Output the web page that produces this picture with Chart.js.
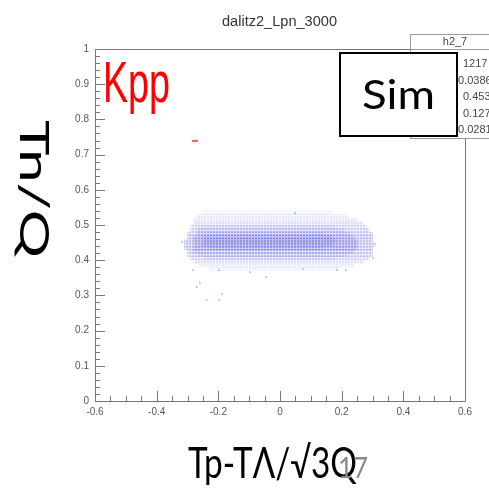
<!DOCTYPE html>
<html>
<head>
<meta charset="utf-8">
<script src="https://cdn.jsdelivr.net/npm/chart.js@4/dist/chart.umd.min.js"></script>
<style>
  html, body { margin: 0; padding: 0; background: #fff; }
  #wrap { width: 489px; height: 491px; position: relative; }
</style>
</head>
<body>
<div id="wrap"><canvas id="c" width="489" height="491"></canvas></div>
<script>
// ---------------- data ----------------
const chartTitle = 'dalitz2_Lpn_3000';
const xTitle = 'Tp-T\u039B/\u221A3Q';
const yTitle = 'Tn/Q';
const xTickLabels = ['-0.6', '-0.4', '-0.2', '0', '0.2', '0.4', '0.6'];
const yTickLabels = ['0', '0.1', '0.2', '0.3', '0.4', '0.5', '0.6', '0.7', '0.8', '0.9', '1'];

// 2D histogram read as rows of bins (Tn/Q): x-extent and relative density
// outer fringe
const fringeY    = [0.375, 0.385, 0.395, 0.405, 0.415, 0.425, 0.435, 0.445, 0.455, 0.465, 0.475, 0.485, 0.495, 0.505, 0.515, 0.525, 0.535];
const fringeLo   = [-0.23, -0.26, -0.28, -0.29, -0.30, -0.30, -0.31, -0.31, -0.31, -0.30, -0.30, -0.29, -0.29, -0.28, -0.28, -0.27, -0.25];
const fringeHi   = [ 0.19,  0.24,  0.27,  0.29,  0.30,  0.30,  0.30,  0.31,  0.30,  0.30,  0.30,  0.29,  0.28,  0.27,  0.25,  0.22,  0.17];
const fringeDens = [ 0.09,  0.13,  0.18,  0.23,  0.27,  0.31,  0.34,  0.35,  0.35,  0.34,  0.31,  0.27,  0.24,  0.20,  0.16,  0.13,  0.09];
// main body
const bodyY    = [0.405, 0.415, 0.425, 0.435, 0.445, 0.455, 0.465, 0.475, 0.485, 0.495];
const bodyLo   = [-0.25, -0.27, -0.28, -0.28, -0.28, -0.28, -0.28, -0.27, -0.27, -0.26];
const bodyHi   = [ 0.18,  0.22,  0.24,  0.25,  0.25,  0.25,  0.24,  0.23,  0.21,  0.18];
const bodyDens = [ 0.10,  0.16,  0.22,  0.28,  0.32,  0.32,  0.28,  0.22,  0.16,  0.10];
// dense core
const coreY    = [0.435, 0.445, 0.455, 0.465, 0.475];
const coreLo   = [-0.23, -0.25, -0.25, -0.25, -0.23];
const coreHi   = [ 0.14,  0.17,  0.18,  0.17,  0.14];
const coreDens = [ 0.15,  0.23,  0.23,  0.20,  0.13];
// isolated entries
const strayX = [-0.260, -0.270, -0.237, -0.198, -0.188, -0.282, -0.198, -0.097, -0.045, 0.075, 0.185, 0.214, 0.302, 0.049, -0.318];
const strayY = [ 0.335,  0.324,  0.287,  0.287,  0.304,  0.372,  0.372,  0.366,  0.352, 0.375, 0.372, 0.372, 0.406, 0.534,  0.452];
// small red mark
const markX = [-0.276];
const markY = [0.739];
// statistics box (partly hidden)
const statsName = 'h2_7';
const statsValues = ['1217', '0.0386', '0.453', '0.127', '0.0281'];

// ---------------- rendering ----------------
const BASE = [92, 92, 222];
const patternCache = {};
function binPattern(a) {
  const key = a.toFixed(3);
  if (patternCache[key]) return patternCache[key];
  const t = document.createElement('canvas');
  t.width = 3; t.height = 3;
  const g = t.getContext('2d');
  g.fillStyle = `rgba(${BASE[0]},${BASE[1]},${BASE[2]},${a * 0.4})`;
  g.fillRect(0, 0, 3, 3);
  g.clearRect(0, 0, 2, 2);
  g.fillStyle = `rgba(${BASE[0]},${BASE[1]},${BASE[2]},${a})`;
  g.fillRect(0, 0, 2, 2);
  const p = document.getElementById('c').getContext('2d').createPattern(t, 'repeat');
  patternCache[key] = p;
  return p;
}

function fitText(ctx, text, x, y, w, font, color, rot) {
  ctx.save();
  ctx.font = font;
  ctx.fillStyle = color;
  ctx.textBaseline = 'alphabetic';
  ctx.textAlign = 'left';
  const m = ctx.measureText(text).width;
  ctx.translate(x, y);
  if (rot) ctx.rotate(rot);
  ctx.scale(w / m, 1);
  ctx.fillText(text, 0, 0);
  ctx.restore();
}

const framePlugin = {
  id: 'frame',
  afterDatasetsDraw(chart) {
    const ctx = chart.ctx;
    const a = chart.chartArea;
    const xs = chart.scales.x, ys = chart.scales.y;
    ctx.save();
    ctx.strokeStyle = '#777';
    ctx.lineWidth = 1;
    ctx.beginPath();
    ctx.rect(Math.round(a.left) + 0.5, Math.round(a.top) + 0.5, Math.round(a.right - a.left), Math.round(a.bottom - a.top));
    ctx.stroke();
    ctx.beginPath();
    for (let i = 0; i <= 24; i++) {
      const v = -0.6 + i * 0.05;
      const px = Math.round(xs.getPixelForValue(v)) + 0.5;
      const len = (i % 4 === 0) ? 10 : 5;
      ctx.moveTo(px, a.bottom);
      ctx.lineTo(px, a.bottom - len);
    }
    for (let i = 0; i <= 50; i++) {
      const v = i * 0.02;
      const py = Math.round(ys.getPixelForValue(v)) + 0.5;
      const len = (i % 5 === 0) ? 10 : 5;
      ctx.moveTo(a.left, py);
      ctx.lineTo(a.left + len, py);
    }
    ctx.stroke();
    ctx.restore();
  },
  afterDraw(chart) {
    const ctx = chart.ctx;
    // title
    fitText(ctx, chartTitle, 222, 26, 115, '14px "Liberation Sans", Arial', '#333');
    // stats box
    ctx.save();
    ctx.fillStyle = '#fff';
    ctx.strokeStyle = '#999';
    ctx.lineWidth = 1;
    ctx.fillRect(410, 34, 90, 104);
    ctx.strokeRect(410.5, 34.5, 90, 104);
    ctx.beginPath(); ctx.moveTo(410, 49.5); ctx.lineTo(489, 49.5); ctx.stroke();
    ctx.fillStyle = '#444';
    ctx.font = '11px "Liberation Sans", Arial';
    ctx.textAlign = 'center';
    ctx.fillText(statsName, 455, 45);
    ctx.textAlign = 'left';
    const sx = [463, 458, 463, 463, 458];
    const sy = [67, 84, 100, 117, 133];
    statsValues.forEach((s, i) => ctx.fillText(s, sx[i], sy[i]));
    ctx.restore();
    // Sim box
    ctx.save();
    ctx.fillStyle = '#fff';
    ctx.fillRect(339, 52, 119, 85);
    ctx.strokeStyle = '#000';
    ctx.lineWidth = 2;
    ctx.strokeRect(340, 53, 117, 83);
    ctx.restore();
    fitText(ctx, 'Sim', 362, 109, 73, '40px Lato, "Open Sans", sans-serif', '#000');
    // Kpp
    fitText(ctx, 'Kpp', 103, 102, 67, '58px "Liberation Sans Narrow", "Liberation Sans", Arial', '#ff0000');
    // axis titles
    fitText(ctx, xTitle, 188, 478, 169, '42px Lato, "Open Sans", sans-serif', '#000');
    fitText(ctx, '17', 338, 478, 30, '28px Lato, "Open Sans", sans-serif', '#888');
    fitText(ctx, yTitle, 20, 120, 138, '40px Lato, "Open Sans", sans-serif', '#000', Math.PI / 2);
  }
};

function rowBars(ys, lo, hi) {
  return ys.map((y, i) => ({ x: [lo[i], hi[i]], y: y }));
}
const barCommon = { borderWidth: 0, barPercentage: 1, categoryPercentage: 1, grouped: false };

const ctx = document.getElementById('c').getContext('2d');
new Chart(ctx, {
  type: 'bar',
  data: {
    datasets: [
      Object.assign({ label: 'fringe', data: rowBars(fringeY, fringeLo, fringeHi),
        backgroundColor: (c) => binPattern(fringeDens[c.dataIndex] ?? 0.1), order: 4 }, barCommon),
      Object.assign({ label: 'body', data: rowBars(bodyY, bodyLo, bodyHi),
        backgroundColor: (c) => binPattern(bodyDens[c.dataIndex] ?? 0.1), order: 3 }, barCommon),
      Object.assign({ label: 'core', data: rowBars(coreY, coreLo, coreHi),
        backgroundColor: (c) => binPattern(coreDens[c.dataIndex] ?? 0.1), order: 2 }, barCommon),
      {
        type: 'scatter',
        label: 'stray',
        data: strayX.map((x, i) => ({ x: x, y: strayY[i] })),
        pointStyle: 'rect',
        pointRadius: 1.2,
        backgroundColor: 'rgba(92,92,222,0.45)',
        borderWidth: 0,
        order: 1
      },
      {
        type: 'scatter',
        label: 'mark',
        data: markX.map((x, i) => ({ x: x, y: markY[i] })),
        pointStyle: 'line',
        pointRadius: 3,
        borderColor: 'rgba(255,40,40,0.8)',
        borderWidth: 2,
        order: 0
      }
    ]
  },
  options: {
    indexAxis: 'y',
    responsive: false,
    animation: false,
    events: [],
    layout: { padding: { left: 0, top: 49, right: 24, bottom: 0 } },
    plugins: { legend: { display: false }, tooltip: { enabled: false }, title: { display: false } },
    scales: {
      x: {
        type: 'linear',
        min: -0.6, max: 0.6,
        grid: { display: false, drawTicks: false },
        border: { display: false },
        ticks: {
          stepSize: 0.2,
          padding: 5,
          maxRotation: 0,
          autoSkip: false,
          color: '#555',
          font: { family: '"Liberation Sans", Arial', size: 10 },
          callback: (v, i) => xTickLabels[i]
        },
        afterFit: (s) => { s.height = 90; }
      },
      y: {
        type: 'linear',
        min: 0, max: 1,
        offset: false,
        grid: { display: false, drawTicks: false },
        border: { display: false },
        ticks: {
          stepSize: 0.1,
          padding: 6,
          autoSkip: false,
          color: '#555',
          font: { family: '"Liberation Sans", Arial', size: 10 },
          callback: (v, i) => yTickLabels[i]
        },
        afterFit: (s) => { s.width = 95; }
      }
    }
  },
  plugins: [framePlugin]
});
</script>
</body>
</html>
